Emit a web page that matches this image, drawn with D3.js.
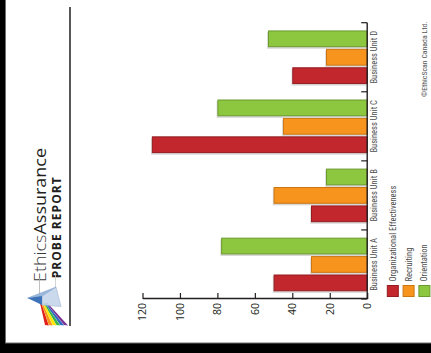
<!DOCTYPE html>
<html>
<head>
<meta charset="utf-8">
<script src="https://cdn.jsdelivr.net/npm/d3@7"></script>
<style>
  html, body { margin: 0; padding: 0; background: #000; overflow: hidden; }
  svg { display: block; }
</style>
</head>
<body>
<svg id="chart" width="431" height="353"></svg>
<script>
// ---- data ----
const categories = ["Business Unit A", "Business Unit B", "Business Unit C", "Business Unit D"];
const seriesNames = ["Organizational Effectiveness", "Recruiting", "Orientation"];
const orgEffectiveness = [50, 30, 115, 40];
const recruiting = [30, 50, 45, 22];
const orientation = [78, 22, 80, 53];
const valueTicks = [0, 20, 40, 60, 80, 100, 120];
const seriesFill = ["#c1272d", "#f7941d", "#8dc63f"];
const seriesStroke = ["#951c21", "#cc7612", "#6b9a2e"];
const rainbow = ["#e0201b", "#f7941d", "#ffe600", "#39b54a", "#2b6cc4", "#7b3294"];

const seriesValues = [orgEffectiveness, recruiting, orientation];
const rows = categories.map((c, i) => ({
  category: c,
  values: seriesNames.map((s, k) => ({ series: s, k, value: seriesValues[k][i] }))
}));

const svg = d3.select("#chart");
const fontNarrow = "'Liberation Sans Narrow', 'Arial Narrow', 'Roboto Condensed', sans-serif";

// ---- sheet: white page with grey edge on black ----
svg.append("rect").attr("width", 431).attr("height", 353).attr("fill", "#000");
svg.append("rect")
  .attr("x", 5.5).attr("y", -5).attr("width", 432).attr("height", 348)
  .attr("fill", "#fff").attr("stroke", "#6e6e6e").attr("stroke-width", 1);

// The report page is laid out portrait (353 wide, 431 tall) and turned a quarter turn.
const page = svg.append("g").attr("transform", "translate(0,353) rotate(-90)");

// ---- header ----
const title = page.append("text")
  .attr("x", 71).attr("y", 46)
  .attr("font-family", "'Open Sans', 'Noto Sans', sans-serif")
  .attr("font-size", 17).attr("fill", "#231f20")
  .attr("textLength", 134).attr("lengthAdjust", "spacingAndGlyphs");
title.append("tspan").attr("font-weight", 300).attr("fill", "#3a3a3a").text("Ethics");
title.append("tspan").attr("font-weight", 400).text("Assurance");

page.append("text")
  .attr("x", 74.7).attr("y", 61)
  .attr("font-family", "'Open Sans', 'Noto Sans', sans-serif")
  .attr("font-size", 12).attr("font-weight", 700).attr("fill", "#231f20")
  .attr("textLength", 101).attr("lengthAdjust", "spacing")
  .text("PROBE REPORT");

page.append("line")
  .attr("x1", 27).attr("x2", 346).attr("y1", 70).attr("y2", 70)
  .attr("stroke", "#231f20").attr("stroke-width", 1.5);

// ---- scales ----
const x0 = d3.scaleBand().domain(categories).range([54, 330.3]);
const x1 = d3.scaleBand().domain(seriesNames).range([0, x0.bandwidth()])
  .paddingInner(0.09).paddingOuter(0.42);
const y = d3.scaleLinear().domain([0, 120]).range([367.2, 142.5]);

// ---- bars ----
const groups = page.append("g").selectAll("g")
  .data(rows).join("g")
  .attr("transform", d => `translate(${x0(d.category)},0)`);

// soft shadow behind each bar
groups.selectAll("rect.shadow")
  .data(d => d.values).join("rect")
  .attr("class", "shadow")
  .attr("x", d => x1(d.series) - 1.6)
  .attr("y", d => y(d.value) - 0.8)
  .attr("width", x1.bandwidth())
  .attr("height", d => y(0) - y(d.value))
  .attr("fill", "#d9d9d9");

groups.selectAll("rect.bar")
  .data(d => d.values).join("rect")
  .attr("class", "bar")
  .attr("x", d => x1(d.series) + 0.5)
  .attr("y", d => y(d.value) + 0.5)
  .attr("width", x1.bandwidth() - 1)
  .attr("height", d => y(0) - y(d.value) - 0.5)
  .attr("fill", d => seriesFill[d.k])
  .attr("stroke", d => seriesStroke[d.k])
  .attr("stroke-width", 1);

// ---- value axis ----
const yAxis = page.append("g")
  .attr("transform", "translate(54,0)")
  .call(d3.axisLeft(y).tickValues(valueTicks).tickSizeInner(-6).tickSizeOuter(0).tickPadding(4));
yAxis.select(".domain").attr("stroke", "#231f20").attr("stroke-width", 1.4);
yAxis.selectAll(".tick line").attr("stroke", "#231f20").attr("stroke-width", 1.2);
yAxis.selectAll(".tick text")
  .attr("font-family", "'Open Sans', 'Noto Sans', sans-serif")
  .attr("font-size", 10.5).attr("fill", "#231f20");

// ---- category axis ----
const catAxis = page.append("g").attr("transform", `translate(0,${y(0)})`);
catAxis.append("line")
  .attr("x1", x0.range()[0]).attr("x2", x0.range()[1])
  .attr("stroke", "#231f20").attr("stroke-width", 1.4);
const bounds = categories.map(c => x0(c)).concat([x0.range()[1]]);
catAxis.selectAll("line.bound")
  .data(bounds).join("line")
  .attr("class", "bound")
  .attr("x1", d => d).attr("x2", d => d)
  .attr("y1", 0).attr("y2", -6)
  .attr("stroke", "#231f20").attr("stroke-width", 1.2);
catAxis.selectAll("text")
  .data(categories).join("text")
  .attr("x", d => x0(d) + x0.bandwidth() / 2)
  .attr("y", 9.8)
  .attr("text-anchor", "middle")
  .attr("font-family", fontNarrow)
  .attr("font-size", 8.5).attr("fill", "#4d4d4d")
  .text(d => d);

// ---- legend ----
const legend = page.append("g").selectAll("g")
  .data(seriesNames).join("g")
  .attr("transform", (d, i) => `translate(56,${386.8 + i * 15.8})`);
legend.append("rect")
  .attr("x", 0.5).attr("y", 0.5).attr("width", 11).attr("height", 11)
  .attr("fill", (d, i) => seriesFill[i])
  .attr("stroke", (d, i) => seriesStroke[i]);
legend.append("text")
  .attr("x", 15.5).attr("y", 6).attr("dy", "0.35em")
  .attr("font-family", fontNarrow)
  .attr("font-size", 8.5).attr("fill", "#4d4d4d")
  .text(d => d);

// ---- copyright ----
page.append("text")
  .attr("x", 256).attr("y", 426.5)
  .attr("font-family", fontNarrow)
  .attr("font-size", 7.8).attr("fill", "#555")
  .text("\u00A9EthicScan Canada Ltd.");

// ---- prism logo (drawn on the sheet directly) ----
const logo = svg.append("g");
logo.append("line").attr("x1", 39.5).attr("x2", 39.5).attr("y1", 278).attr("y2", 300)
  .attr("stroke", "#b0b0b0").attr("stroke-width", 0.8);
logo.append("line").attr("x1", 55.5).attr("x2", 55.5).attr("y1", 273).attr("y2", 288)
  .attr("stroke", "#c8c8c8").attr("stroke-width", 0.8);

const stripeTop = d3.scaleLinear().domain([0, rainbow.length]).range([40, 47.5]);
const stripeBottom = d3.scaleLinear().domain([0, rainbow.length]).range([45, 68]);
logo.selectAll("path.band")
  .data(rainbow).join("path")
  .attr("class", "band")
  .attr("d", (c, i) => `M${stripeTop(i)},303 L${stripeTop(i + 1)},303 L${stripeBottom(i + 1)},325.5 L${stripeBottom(i)},325 Z`)
  .attr("fill", c => c);

logo.append("path")
  .attr("d", "M42,296 L56,287 L61,306.5 L42,305 Z")
  .attr("fill", "#c4d5ea").attr("fill-opacity", 0.9)
  .attr("stroke", "#9fb6d3").attr("stroke-width", 0.6);
logo.append("path")
  .attr("d", "M27.5,298 L42,296 L56,287 Z")
  .attr("fill", "#9ab7dc").attr("stroke", "#8eaad0").attr("stroke-width", 0.5);
logo.append("path")
  .attr("d", "M27.5,298 L42,296 L42,305 Z")
  .attr("fill", "#3d73b8");
</script>
</body>
</html>
